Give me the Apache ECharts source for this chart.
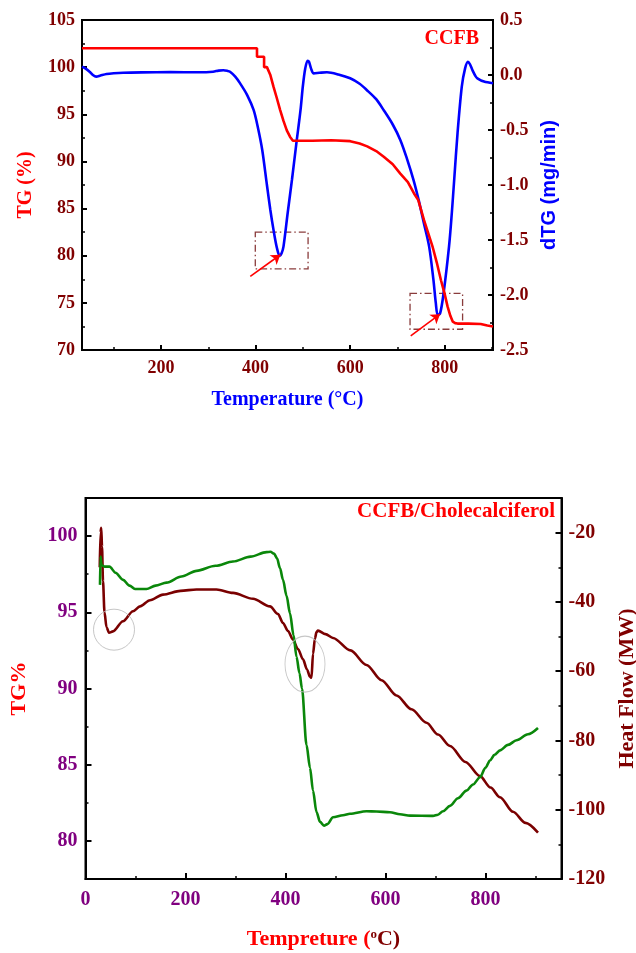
<!DOCTYPE html>
<html>
<head>
<meta charset="utf-8">
<script src="https://cdn.jsdelivr.net/npm/echarts@6/dist/echarts.min.js"></script>
<style>
  html, body { margin: 0; padding: 0; background: #fff; }
  #chart { width: 636px; height: 953px; }
</style>
</head>
<body>
<div id="chart"></div>
<script>
// ---- CCFB: TG (%) and dTG (mg/min) against temperature (°C) ----
const tgCCFB = [[33,102],[403,102],[403,101.1],[418,101.1],[418,100],[424,100],[431,99.2],[438,97.9],[445,96.7],[452,95.45],[459,94.3],[466,93.3],[473,92.6],[479,92.2],[520,92.2],[560,92.25],[600,92.15],[620,91.9],[636,91.6],[655,91.1],[671,90.5],[690,89.7],[706,88.7],[722,87.8],[735,86.6],[744,85.9],[756,83.8],[765,82.4],[774,81.0],[783,79.3],[792,77.4],[800,75.9],[806,74.6],[812,73.6],[817,73.0],[822,72.85],[827,72.8],[850,72.8],[876,72.75],[890,72.6],[902,72.5]];
const dtgCCFB = [[33,0.076],[40,0.06],[49,0.03],[56,0.0],[63,-0.015],[72,-0.005],[85,0.009],[100,0.016],[120,0.021],[160,0.024],[220,0.026],[280,0.025],[310,0.03],[322,0.04],[332,0.043],[340,0.038],[346,0.03],[357,-0.015],[367,-0.074],[382,-0.18],[396,-0.32],[405,-0.48],[414,-0.68],[424,-1.0],[431,-1.22],[438,-1.41],[445,-1.57],[451,-1.645],[455,-1.62],[459,-1.56],[468,-1.25],[477,-0.95],[486,-0.63],[495,-0.32],[500,-0.1],[505,0.06],[510,0.13],[513,0.12],[518,0.05],[523,0.015],[535,0.02],[551,0.025],[575,0.005],[600,-0.03],[620,-0.08],[635,-0.136],[655,-0.22],[671,-0.32],[690,-0.45],[706,-0.59],[720,-0.76],[734,-0.955],[745,-1.14],[756,-1.35],[767,-1.56],[776,-1.86],[781,-2.07],[785,-2.18],[790,-2.17],[797,-2.0],[809,-1.56],[815,-1.25],[820,-0.95],[827,-0.53],[836,-0.106],[843,0.06],[849,0.12],[853,0.1],[859,0.04],[865,-0.01],[869,-0.03],[883,-0.06],[902,-0.075]];
// dash-dot boxes around the two dTG minima, and the arrows pointing at them
const peakBoxes = [[[399.4,82.5],[511,78.6]],[[726.6,76.0],[837.7,72.2]]];
const peakArrows = [[[388.8,77.8],[452.4,80.1]],[[728,71.5],[790,73.8]]];

// ---- CCFB/Cholecalciferol: TG% and heat flow (MW) against temperature (°C) ----
const tgBlend = [[29,96.8],[30,98.66],[32,98.1],[38,98.0],[48,98.0],[60,97.6],[75,97.13],[88,96.75],[99,96.53],[122,96.53],[140,96.75],[162,96.95],[192,97.35],[222,97.72],[260,98.05],[295,98.33],[330,98.65],[362,98.95],[370,98.97],[377,98.85],[383,98.55],[389,97.9],[395,97.13],[402,96.1],[409,94.93],[416,93.5],[422,92.08],[428,91.0],[433,90.0],[442,86.3],[449,84.8],[455,83.3],[462,81.9],[469,81.25],[477,81.0],[484,81.1],[495,81.55],[515,81.68],[529,81.78],[562,81.95],[582,81.93],[609,81.88],[629,81.75],[649,81.66],[695,81.64],[705,81.72],[715,81.95],[729,82.3],[745,82.8],[762,83.3],[775,83.7],[789,84.18],[800,84.8],[809,85.28],[818,85.65],[829,85.94],[845,86.3],[862,86.6],[885,87.0],[905,87.41]];
const heatFlow = [[28.5,-30],[30,-20],[31.5,-18.6],[33,-24],[35,-34],[38,-43],[42,-47.3],[47,-48.9],[55,-48.5],[75,-45.6],[95,-42.7],[109,-41.3],[129,-39.5],[155,-37.9],[190,-36.8],[222,-36.4],[262,-36.4],[295,-37.4],[335,-39.1],[369,-41.3],[385,-43.5],[395,-46.1],[405,-48.4],[415,-50.9],[425,-53.6],[435,-56.6],[443,-59.5],[449,-61.6],[452,-61.9],[455,-55],[459,-50.5],[462,-48.7],[465,-48.3],[480,-49.3],[495,-50.4],[530,-54],[562,-58.2],[592,-62.6],[622,-67.0],[652,-71.0],[682,-74.9],[705,-78.3],[729,-81.6],[760,-86.2],[789,-90.3],[810,-93.6],[829,-96.4],[855,-100.6],[880,-103.8],[905,-106.6]];
// circled heat-flow events, centred in TG% coordinates
const eventRings = [[57,93.86],[439,91.6]];

// tick and label positions
const xMajorTop = [200,400,600,800];
const xMinorTop = [100,300,500,700,900];
const xLabelsBottom = [0,200,400,600,800];
const xMajorBottom = [200,400,600,800];
const xMinorBottom = [100,300,500,700,900];
const tgLabelsBottom = [80,85,90,95,100];
const tgMinorBottom = [82.5,87.5,92.5,97.5];
const hfLabels = [-120,-100,-80,-60,-40,-20];
const hfMinor = [-110,-90,-70,-50,-30];

const SERIF = 'Liberation Serif';
const SANS = 'Liberation Sans';
const WINE = '#800000';
const PURPLE = '#800080';
const AXIS_LINE = { show: true, onZero: false, lineStyle: { color: '#000', width: 2 } };

function label(color, size, margin, extra) {
  return Object.assign({ color, fontSize: size, fontWeight: 'bold', fontFamily: SERIF, margin }, extra || {});
}
function minorAxis(base, values) {
  return Object.assign({}, base, {
    name: '', axisLine: { show: false, onZero: false },
    axisLabel: { show: false },
    axisTick: { show: true, inside: true, length: 3, customValues: values, lineStyle: { color: '#000', width: 1.5 } },
    splitLine: { show: false }, minorTick: { show: false }
  });
}

const xTop = { gridIndex: 0, type: 'value', min: 33, max: 902, position: 'bottom' };
const xBottom = { gridIndex: 1, type: 'value', min: 0, max: 952, position: 'bottom' };
const yTgBottom = { gridIndex: 1, type: 'value', min: 77.5, max: 102.5, position: 'left' };
const yHf = { gridIndex: 1, type: 'value', min: -120, max: -10, position: 'right' };

const chart = echarts.init(document.getElementById('chart'), null, { renderer: 'canvas' });
chart.setOption({
  animation: false,
  backgroundColor: '#fff',
  title: [
    { text: 'CCFB', right: 157, top: 29, textStyle: { color: '#ff0000', fontSize: 20, fontWeight: 'bold', fontFamily: SERIF }, padding: 0 },
    { text: 'CCFB/Cholecalciferol', right: 81, top: 501, textStyle: { color: '#ff0000', fontSize: 21, fontWeight: 'bold', fontFamily: SERIF }, padding: 0 }
  ],
  grid: [
    { left: 82, top: 20, width: 411, height: 330, show: true, borderColor: '#000', borderWidth: 2, containLabel: false, outerBoundsMode: 'none' },
    { left: 85.5, top: 498, width: 476, height: 381, show: true, borderColor: '#000', borderWidth: 2, containLabel: false, outerBoundsMode: 'none' }
  ],
  xAxis: [
    Object.assign({}, xTop, {
      name: 'Temperature (°C)', nameLocation: 'middle', nameGap: 40,
      nameTextStyle: { color: '#0000ff', fontSize: 20, fontWeight: 'bold', fontFamily: SERIF },
      axisLine: AXIS_LINE,
      axisTick: { show: true, inside: true, length: 5, customValues: xMajorTop, lineStyle: { color: '#000', width: 2 } },
      axisLabel: label(WINE, 18, 9, { customValues: xMajorTop }),
      splitLine: { show: false }
    }),
    minorAxis(xTop, xMinorTop),
    Object.assign({}, xBottom, {
      name: '{a|Tempreture (}{b|o}{c|C)}', nameLocation: 'middle', nameGap: 49,
      nameTextStyle: {
        rich: {
          a: { color: '#ff0000', fontSize: 22, fontWeight: 'bold', fontFamily: SERIF },
          b: { color: WINE, fontSize: 13, fontWeight: 'bold', fontFamily: SERIF, verticalAlign: 'top', padding: [0, 0, 8, 0] },
          c: { color: WINE, fontSize: 22, fontWeight: 'bold', fontFamily: SERIF }
        }
      },
      axisLine: AXIS_LINE,
      axisTick: { show: true, inside: true, length: 6, customValues: xMajorBottom, lineStyle: { color: '#000', width: 2 } },
      axisLabel: label(PURPLE, 20, 11, { customValues: xLabelsBottom }),
      splitLine: { show: false }
    }),
    minorAxis(xBottom, xMinorBottom)
  ],
  yAxis: [
    {
      gridIndex: 0, type: 'value', min: 70, max: 105, interval: 5, position: 'left',
      name: 'TG (%)', nameLocation: 'middle', nameGap: 46,
      nameTextStyle: { color: '#ff0000', fontSize: 20, fontWeight: 'bold', fontFamily: SERIF },
      axisLine: AXIS_LINE,
      axisTick: { show: true, inside: true, length: 5, lineStyle: { color: '#000', width: 2 } },
      minorTick: { show: true, splitNumber: 2, length: 3, lineStyle: { color: '#000', width: 1.5 } },
      axisLabel: label(WINE, 18, 7),
      splitLine: { show: false }
    },
    {
      gridIndex: 0, type: 'value', min: -2.5, max: 0.5, interval: 0.5, position: 'right',
      name: 'dTG (mg/min)', nameLocation: 'middle', nameGap: 46, nameRotate: 90,
      nameTextStyle: { color: '#0000ff', fontSize: 20, fontWeight: 'bold', fontFamily: SANS },
      axisLine: AXIS_LINE,
      axisTick: { show: true, inside: true, length: 5, lineStyle: { color: '#000', width: 2 } },
      minorTick: { show: true, splitNumber: 2, length: 3, lineStyle: { color: '#000', width: 1.5 } },
      axisLabel: label(WINE, 18, 7, { formatter: v => v.toFixed(1) }),
      splitLine: { show: false }
    },
    Object.assign({}, yTgBottom, {
      name: 'TG%', nameLocation: 'middle', nameGap: 55,
      nameTextStyle: { color: '#ff0000', fontSize: 22, fontWeight: 'bold', fontFamily: SERIF },
      axisLine: AXIS_LINE,
      axisTick: { show: true, inside: true, length: 6, customValues: tgLabelsBottom, lineStyle: { color: '#000', width: 2 } },
      axisLabel: label(PURPLE, 20, 8, { customValues: tgLabelsBottom }),
      splitLine: { show: false }
    }),
    minorAxis(yTgBottom, tgMinorBottom),
    Object.assign({}, yHf, {
      name: 'Heat Flow (MW)', nameLocation: 'middle', nameGap: 51, nameRotate: 90,
      nameTextStyle: { color: WINE, fontSize: 22, fontWeight: 'bold', fontFamily: SERIF },
      axisLine: AXIS_LINE,
      axisTick: { show: true, inside: true, length: 6, customValues: hfLabels, lineStyle: { color: '#000', width: 2 } },
      axisLabel: label(WINE, 20, 7, { customValues: hfLabels }),
      splitLine: { show: false }
    }),
    minorAxis(yHf, hfMinor)
  ],
  series: [
    {
      name: 'dTG', type: 'line', xAxisIndex: 0, yAxisIndex: 1, data: dtgCCFB,
      showSymbol: false, smooth: 0.3,
      lineStyle: { color: '#0000ff', width: 2.6 }, z: 3
    },
    {
      name: 'TG', type: 'line', xAxisIndex: 0, yAxisIndex: 0, data: tgCCFB,
      showSymbol: false, smooth: false,
      lineStyle: { color: '#ff0000', width: 2.6 }, z: 4,
      markArea: {
        silent: true,
        itemStyle: { color: 'rgba(0,0,0,0)', borderColor: '#8a3c3c', borderWidth: 1.3, borderType: [7, 3, 1.5, 3] },
        label: { show: false },
        data: peakBoxes.map(b => [{ coord: b[0] }, { coord: b[1] }])
      },
      markLine: {
        silent: true, symbol: ['none', 'arrow'], symbolSize: 9,
        lineStyle: { color: '#ff0000', width: 1.6, type: 'solid' },
        label: { show: false },
        data: peakArrows.map(a => [{ coord: a[0] }, { coord: a[1] }])
      }
    },
    {
      name: 'Heat Flow', type: 'line', xAxisIndex: 2, yAxisIndex: 4, data: heatFlow,
      showSymbol: false, smooth: 0.3, smoothMonotone: 'x',
      lineStyle: { color: '#7a0000', width: 2.6 }, z: 3
    },
    {
      name: 'TG%', type: 'line', xAxisIndex: 2, yAxisIndex: 2, data: tgBlend,
      showSymbol: false, smooth: 0.3, smoothMonotone: 'x',
      lineStyle: { color: '#0a870a', width: 2.6 }, z: 4
    },
    {
      name: 'rings', type: 'scatter', xAxisIndex: 2, yAxisIndex: 2, silent: true,
      data: eventRings.map((c, i) => ({ value: c, symbolSize: i === 0 ? [41, 41] : [40, 56] })),
      symbol: 'circle',
      itemStyle: { color: 'rgba(0,0,0,0)', borderColor: '#b8b8b8', borderWidth: 1 }, z: 5
    }
  ]
});
</script>
</body>
</html>
